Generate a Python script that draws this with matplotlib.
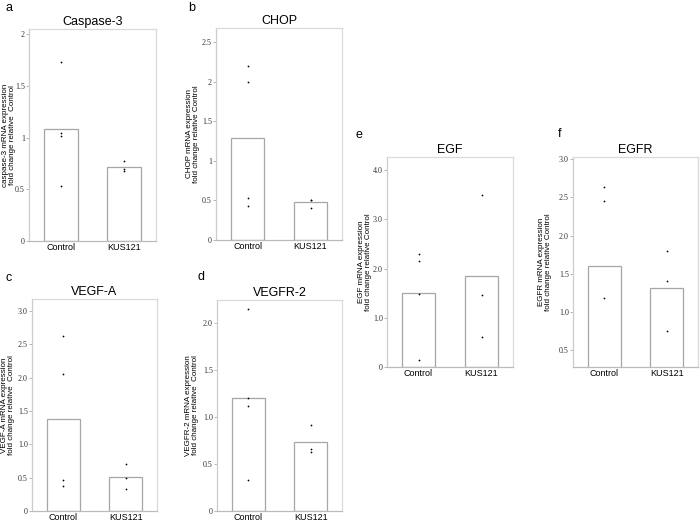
import matplotlib
matplotlib.use('Agg')
import matplotlib.pyplot as plt

plt.rcParams['font.family'] = ['Liberation Sans', 'DejaVu Sans']

groups = ['Control', 'KUS121']

# panel data
titles = ['Caspase-3', 'CHOP', 'VEGF-A', 'VEGFR-2', 'EGF', 'EGFR']
letters = ['a', 'b', 'c', 'd', 'e', 'f']
ylabels = ['caspase-3 mRNA expression\nfold change relative  Control',
           'CHOP mRNA expression\nfold change relative Control',
           'VEGF-A mRNA expression\nfold change relative  Control',
           'VEGFR-2 mRNA expression\nfold change relative  Control',
           'EGF mRNA expression\nfold change relative Control',
           'EGFR mRNA expression\nfold change relative Control']

bar_heights = [[1.08, 0.715],
               [1.295, 0.475],
               [1.38, 0.51],
               [1.20, 0.73],
               [1.51, 1.85],
               [1.605, 1.32]]

control_pts = [[1.735, 1.045, 1.015, 0.53],
               [2.205, 2.0, 0.535, 0.43],
               [2.63, 2.05, 0.47, 0.38],
               [2.14, 1.20, 1.12, 0.33],
               [2.29, 2.15, 1.475, 0.145],
               [2.64, 2.45, 1.19]]
kus_pts = [[0.77, 0.695, 0.675],
           [0.505, 0.50, 0.40],
           [0.71, 0.50, 0.33],
           [0.91, 0.655, 0.625],
           [3.5, 1.465, 0.61],
           [1.80, 1.41, 0.75]]

yticks = [[0, 0.5, 1, 1.5, 2],
          [0, 0.5, 1, 1.5, 2, 2.5],
          [0, 0.5, 1.0, 1.5, 2.0, 2.5, 3.0],
          [0, 0.5, 1.0, 1.5, 2.0],
          [0, 1.0, 2.0, 3.0, 4.0],
          [0.5, 1.0, 1.5, 2.0, 2.5, 3.0]]
yticklabels = [['0', '0.5', '1', '1.5', '2'],
               ['0', '0.5', '1', '1.5', '2', '2.5'],
               ['0', '0.5', '1.0', '1.5', '2.0', '2.5', '3.0'],
               ['0', '0.5', '1.0', '1.5', '2.0'],
               ['0', '1.0', '2.0', '3.0', '4.0'],
               ['0.5', '1.0', '1.5', '2.0', '2.5', '3.0']]
ylims = [(0, 2.05), (0, 2.68), (0, 3.18), (0, 2.24), (0, 4.27), (0.28, 3.03)]

# axes boxes in pixels: left, top, right, bottom
boxes = [(29, 29, 156, 241), (216, 28, 342, 240),
         (32, 299, 157, 511), (217, 300, 342, 511),
         (387, 157, 513, 367), (573, 157, 698, 367)]
letter_pos = [(5, 8), (188, 8), (5, 278), (198, 277), (355, 135), (558, 134)]
ylabel_x = [9, 193, 8, 192, 365, 545]  # pixel x of the y label centre

W, H = 700, 522
fig = plt.figure(figsize=(7, 5.22), dpi=100)

for i in range(6):
    l, t, r, b = boxes[i]
    ax = fig.add_axes([l / W, 1 - b / H, (r - l) / W, (b - t) / H])
    ax.bar([0, 1], bar_heights[i], width=0.53, color='white',
           edgecolor='#a6a6a6', linewidth=0.9, zorder=2)
    ax.scatter([0] * len(control_pts[i]), control_pts[i], s=1.6, color='black',
               linewidths=0, zorder=3)
    ax.scatter([1] * len(kus_pts[i]), kus_pts[i], s=1.6, color='black',
               linewidths=0, zorder=3)
    ax.set_xlim(-0.5, 1.5)
    ax.set_ylim(*ylims[i])
    ax.set_xticks([0, 1])
    ax.set_xticklabels(groups, fontsize=6.5)
    ax.set_yticks(yticks[i])
    ax.set_yticklabels(yticklabels[i], fontsize=5.8, family='Liberation Serif', color='#333333')
    ax.tick_params(axis='x', length=0, pad=1.5)
    ax.tick_params(axis='y', length=2, width=0.6, color='#aaaaaa', pad=1)
    for s in ax.spines.values():
        s.set_color('#d9d9d9')
        s.set_linewidth(0.9)
    ax.spines['bottom'].set_color('#bbbbbb')
    ax.spines['left'].set_color('#cccccc')
    ax.set_title(titles[i], fontsize=9, pad=3)
    ax.set_ylabel(ylabels[i], fontsize=5.8, linespacing=1.1, va='center')
    ax.yaxis.set_label_coords((ylabel_x[i] - l) / (r - l), 0.5)
    fig.text(letter_pos[i][0] / W, 1 - letter_pos[i][1] / H, letters[i],
             fontsize=9, ha='left', va='center')

fig.savefig('out.png', dpi=100)
